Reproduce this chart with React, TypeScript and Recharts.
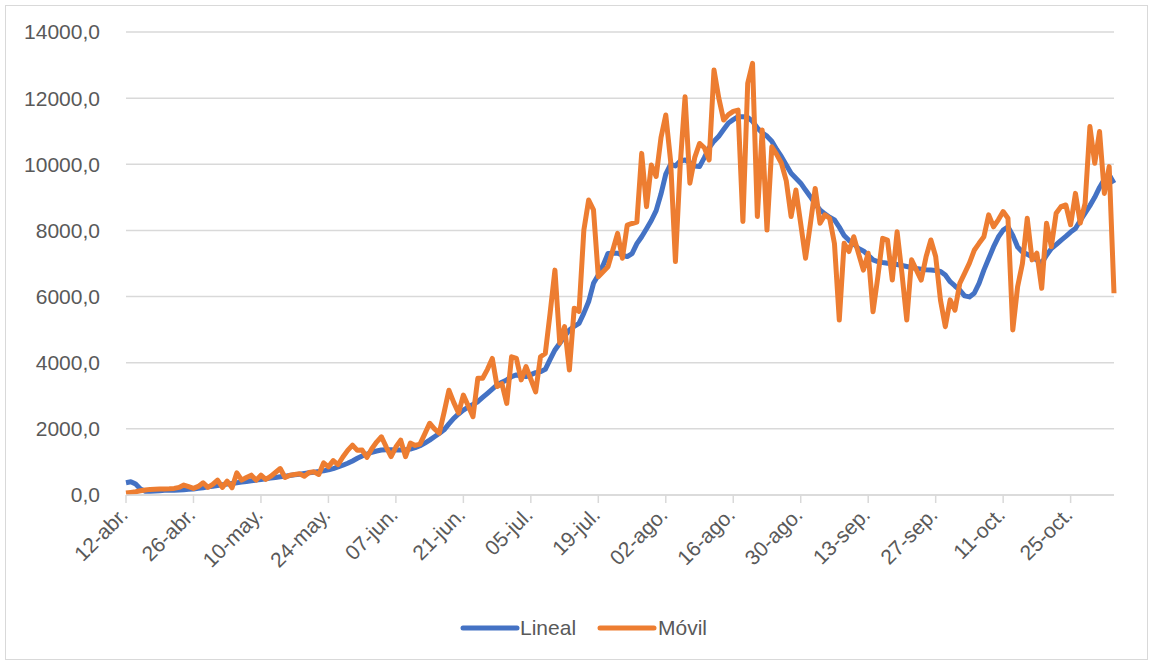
import { LineChart, Line, XAxis, YAxis, CartesianGrid, Legend } from "recharts";

// calendar for the x axis: 12-abr. to 03-nov.
const monthNames = ["abr.", "may.", "jun.", "jul.", "ago.", "sep.", "oct.", "nov."];
const monthDays = [30, 31, 30, 31, 31, 30, 31, 30];
const firstDay = 12;
const dayCount = 206;

const tickLabels = [
  "12-abr.", "26-abr.", "10-may.", "24-may.", "07-jun.", "21-jun.", "05-jul.", "19-jul.",
  "02-ago.", "16-ago.", "30-ago.", "13-sep.", "27-sep.", "11-oct.", "25-oct.",
];

const yTicks = [0, 2000, 4000, 6000, 8000, 10000, 12000, 14000];

const lineal = [
  370, 400, 330, 180, 110, 110, 120, 130, 140, 150,
  140, 150, 160, 170, 180, 200, 220, 245, 265, 285,
  310, 330, 350, 370, 390, 410, 430, 450, 470, 490,
  510, 530, 550, 570, 590, 610, 630, 650, 670, 690,
  710, 730, 760, 800, 850, 900, 960, 1030, 1110, 1180,
  1240, 1290, 1330, 1360, 1370, 1370, 1360, 1360, 1370, 1390,
  1430, 1490, 1570, 1660, 1760, 1860, 1970, 2150, 2320, 2450,
  2570, 2660, 2740, 2820, 2950, 3075, 3200, 3330, 3410, 3480,
  3580, 3630, 3600, 3580, 3640, 3700, 3730, 3800, 4100, 4385,
  4590, 4800, 4990, 5100, 5190, 5500, 5850, 6400, 6650, 6950,
  7300, 7310, 7310, 7250, 7210, 7300, 7600, 7810, 8050, 8300,
  8600, 9100, 9700, 10000, 9950, 10100, 10130, 10050, 9950, 9930,
  10200, 10500, 10700, 10850, 11050, 11250, 11350, 11440, 11440, 11420,
  11300, 11100, 10950, 10850, 10700, 10450, 10230, 9980, 9730, 9580,
  9430, 9220, 9020, 8800, 8620, 8500, 8400, 8320, 8100, 7850,
  7700, 7600, 7450, 7380, 7250, 7110, 7060, 7030, 7010, 7000,
  6970, 6940, 6910, 6880, 6850, 6830, 6810, 6800, 6790, 6760,
  6650, 6450, 6320, 6200, 6020, 5990, 6100, 6400, 6800, 7150,
  7500, 7800, 8010, 8110, 7850, 7500, 7350, 7280, 7200, 7100,
  7010, 7250, 7450, 7570, 7700, 7820, 7950, 8060, 8300, 8520,
  8750, 9000, 9300, 9550, 9680, 9430,
];

const movil = [
  60, 80, 100, 130, 150, 170, 175, 180, 185, 190,
  200, 230, 300, 250, 200, 260, 370, 230, 320, 450,
  230, 420, 220, 670, 450, 530, 600, 450, 600, 470,
  560, 680, 800, 530, 600, 620, 640, 570, 680, 700,
  620, 970, 850, 1040, 920, 1150, 1350, 1510, 1350, 1360,
  1140, 1400, 1600, 1760, 1450, 1160, 1450, 1660, 1160, 1570,
  1500, 1540, 1850, 2170, 2000, 1870, 2500, 3170, 2800, 2480,
  3020, 2700, 2370, 3530, 3530, 3800, 4130, 3280, 3370, 2770,
  4180, 4130, 3480, 3880, 3500, 3120, 4180, 4280, 5500, 6800,
  4590, 5090, 3780, 5650, 5550, 8010, 8920, 8620, 6600, 6750,
  6900, 7400, 7910, 7160, 8160, 8210, 8250, 10330, 8720, 9980,
  9630, 10800, 11490, 10100, 7060, 10000, 12040, 9430, 10200, 10630,
  10500, 10130, 12850, 12000, 11340, 11500, 11600, 11640, 8270, 12450,
  13050, 8420, 11040, 8010, 10530, 10300, 10030, 9500, 8420, 9220,
  8200, 7160, 8200, 9270, 8220, 8470, 8370, 7600, 5290, 7610,
  7360, 7810, 7300, 6800, 7310, 5540, 6600, 7760, 7710, 6500,
  7960, 6700, 5290, 7110, 6800, 6500, 7200, 7710, 7210, 5890,
  5090, 5900, 5590, 6400, 6700, 7010, 7400, 7610, 7810, 8470,
  8110, 8320, 8570, 8370, 4990, 6300, 7000, 8370, 7110, 7310,
  6250, 8220, 7510, 8520, 8720, 8770, 8170, 9120, 8220, 8820,
  11140, 10030, 10990, 9120, 9930, 6100,
];

const dates: string[] = [];
{
  let m = 0;
  let d = firstDay;
  while (dates.length < dayCount) {
    dates.push(`${String(d).padStart(2, "0")}-${monthNames[m]}`);
    d++;
    if (d > monthDays[m]) {
      d = 1;
      m++;
    }
  }
}

const data = dates.map((date, i) => ({ date, lineal: lineal[i], movil: movil[i] }));

const FONT = "'Liberation Sans', Arial, sans-serif";
const TEXT = "#595959";
const GRID = "#D9D9D9";
const BLUE = "#4472C4";
const ORANGE = "#ED7D31";

const fmt = (v: number) => v.toFixed(1).replace(".", ",");

function DateTick(props: any) {
  const { x, y, payload } = props;
  const ax = x - 2;
  const ay = y + 6;
  return (
    <text
      x={ax}
      y={ay}
      dy="0.35em"
      textAnchor="end"
      transform={`rotate(-45, ${ax}, ${ay})`}
      fill={TEXT}
      fontSize={21}
      fontFamily={FONT}
    >
      {payload.value}
    </text>
  );
}

function LegendBox() {
  const items = [
    { name: "Lineal", color: BLUE, line: 460, text: 520 },
    { name: "Móvil", color: ORANGE, line: 597, text: 658 },
  ];
  return (
    <div style={{ position: "relative", height: 32, fontFamily: FONT }}>
      {items.map((it) => (
        <div key={it.name}>
          <svg
            width={60}
            height={12}
            style={{ position: "absolute", left: it.line, top: 10 }}
          >
            <line x1={3} x2={57} y1={6} y2={6} stroke={it.color} strokeWidth={5} strokeLinecap="round" />
          </svg>
          <span
            style={{
              position: "absolute",
              left: it.text,
              top: 3,
              fontSize: 21,
              color: TEXT,
              lineHeight: "26px",
            }}
          >
            {it.name}
          </span>
        </div>
      ))}
    </div>
  );
}

export default function App() {
  return (
    <div style={{ position: "absolute", left: 0, top: 0, width: 1153, height: 665, background: "#fff" }}>
      <div
        style={{
          position: "absolute",
          left: 5,
          top: 5,
          width: 1143,
          height: 655,
          border: `1px solid ${GRID}`,
          boxSizing: "border-box",
        }}
      />
      <LineChart
        width={1153}
        height={665}
        data={data}
        margin={{ top: 32, right: 39, left: 0, bottom: 60 }}
        style={{ position: "absolute", left: 0, top: 0 }}
      >
        <CartesianGrid vertical={false} stroke={GRID} strokeWidth={1.5} />
        <XAxis
          dataKey="date"
          ticks={tickLabels}
          interval={0}
          height={110}
          tick={DateTick}
          tickSize={8}
          tickMargin={2}
          axisLine={{ stroke: GRID, strokeWidth: 1.5 }}
          tickLine={{ stroke: GRID, strokeWidth: 1.5 }}
        />
        <YAxis
          domain={[0, 14000]}
          ticks={yTicks}
          width={126}
          axisLine={false}
          tickLine={false}
          tickSize={0}
          tickMargin={26}
          tickFormatter={fmt}
          tick={{ fill: TEXT, fontSize: 21, fontFamily: FONT }}
        />
        <Legend
          layout="horizontal"
          verticalAlign="middle"
          align="center"
          content={<LegendBox />}
          wrapperStyle={{ top: 612, left: 0, width: 1153, height: 32 }}
        />
        <Line
          name="Lineal"
          dataKey="lineal"
          type="linear"
          stroke={BLUE}
          strokeWidth={5}
          strokeLinejoin="round"
          dot={false}
          activeDot={false}
          isAnimationActive={false}
        />
        <Line
          name="Móvil"
          dataKey="movil"
          type="linear"
          stroke={ORANGE}
          strokeWidth={5}
          strokeLinejoin="round"
          dot={false}
          activeDot={false}
          isAnimationActive={false}
        />
      </LineChart>
    </div>
  );
}
